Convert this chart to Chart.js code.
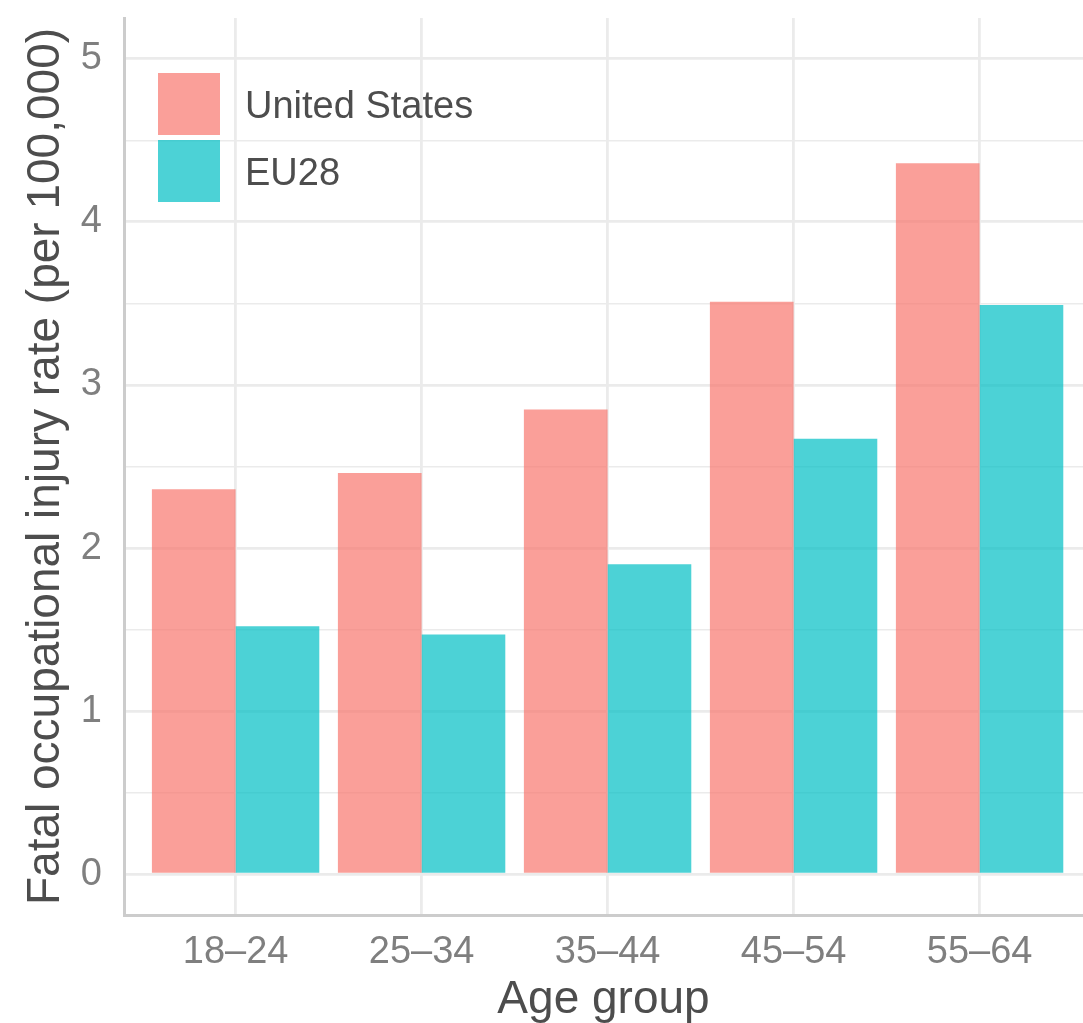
<!DOCTYPE html>
<html>
<head>
<meta charset="utf-8">
<script src="https://cdn.jsdelivr.net/npm/chart.js@4/dist/chart.umd.min.js"></script>
<style>
  html, body { margin: 0; padding: 0; background: #ffffff; overflow: hidden; }
  #wrap { width: 1083px; height: 1023px; }
</style>
</head>
<body>
<div id="wrap"><canvas id="c" width="1083" height="1023"></canvas></div>
<script>
// ---- data ----
const categories = ['18\u201324', '25\u201334', '35\u201344', '45\u201354', '55\u201364'];
const seriesNames = ['United States', 'EU28'];
const usRates = [2.36, 2.46, 2.85, 3.51, 4.36];
const euRates = [1.52, 1.47, 1.90, 2.67, 3.49];
const yTickValues = [0, 0.5, 1, 1.5, 2, 2.5, 3, 3.5, 4, 4.5, 5];
const xTickValues = [1, 2, 3, 4, 5];

const FONT = "'Liberation Sans', Arial, Helvetica, sans-serif";
const usColor = 'rgba(248,118,109,0.7)';
const euColor = 'rgba(0,191,196,0.7)';

const toPoints = (arr) => arr.map((v, i) => ({ x: i + 1, y: v }));

const legendPlugin = {
  id: 'ggLegend',
  afterDatasetsDraw(chart) {
    const { ctx, chartArea } = chart;
    const x0 = chartArea.left + 34;
    const y0 = chartArea.top + 55;
    const box = 62, gap = 5;
    ctx.save();
    chart.data.datasets.forEach((ds, i) => {
      const y = y0 + i * (box + gap);
      ctx.fillStyle = ds.backgroundColor;
      ctx.fillRect(x0, y, box, box);
      ctx.fillStyle = '#4D4D4D';
      ctx.font = '38px ' + FONT;
      ctx.textAlign = 'left';
      ctx.textBaseline = 'alphabetic';
      ctx.fillText(ds.label, x0 + box + 25, y + box / 2 + 13.6);
    });
    ctx.restore();
  }
};

new Chart(document.getElementById('c'), {
  type: 'bar',
  data: {
    datasets: [
      { label: seriesNames[0], data: toPoints(usRates), backgroundColor: usColor, borderWidth: 0 },
      { label: seriesNames[1], data: toPoints(euRates), backgroundColor: euColor, borderWidth: 0 }
    ]
  },
  options: {
    responsive: false,
    animation: false,
    devicePixelRatio: 1,
    layout: { padding: { top: 18, left: 0, right: 0, bottom: 0 } },
    datasets: { bar: { categoryPercentage: 0.9, barPercentage: 1.0 } },
    plugins: { legend: { display: false }, tooltip: { enabled: false } },
    scales: {
      x: {
        type: 'linear',
        offset: false,
        min: 0.4,
        max: 5.556,
        afterBuildTicks: (s) => { s.ticks = xTickValues.map(v => ({ value: v })); },
        afterFit: (s) => { s.height = 108; s.paddingLeft = 0; s.paddingRight = 0; },
        grid: { offset: false, color: '#EBEBEB', lineWidth: 2.8, drawTicks: false },
        border: { display: true, color: '#CCCCCC', width: 3 },
        ticks: {
          padding: 15,
          color: '#7F7F7F',
          font: { family: FONT, size: 38 },
          maxRotation: 0,
          autoSkip: false,
          callback: (v) => categories[Math.round(v) - 1]
        },
        title: {
          display: true,
          text: 'Age group',
          color: '#4D4D4D',
          font: { family: FONT, size: 46, lineHeight: 1 },
          padding: { top: 0, bottom: 0 }
        }
      },
      y: {
        type: 'linear',
        min: -0.25,
        max: 5.25,
        afterBuildTicks: (s) => { s.ticks = yTickValues.map(v => ({ value: v })); },
        afterFit: (s) => { s.width = 124; s.paddingTop = 0; s.paddingBottom = 0; },
        grid: {
          color: '#EBEBEB',
          lineWidth: (c) => (c.tick && Number.isInteger(c.tick.value)) ? 2.8 : 1.6,
          drawTicks: false
        },
        border: { display: true, color: '#CCCCCC', width: 3 },
        ticks: {
          padding: 22,
          color: '#7F7F7F',
          font: { family: FONT, size: 38 },
          autoSkip: false,
          callback: (v) => Number.isInteger(v) ? String(v) : ''
        },
        title: {
          display: true,
          text: 'Fatal occupational injury rate (per 100,000)',
          color: '#4D4D4D',
          font: { family: FONT, size: 46, lineHeight: 1 },
          padding: { top: 23, bottom: 0 }
        }
      }
    }
  },
  plugins: [legendPlugin]
});
</script>
</body>
</html>
